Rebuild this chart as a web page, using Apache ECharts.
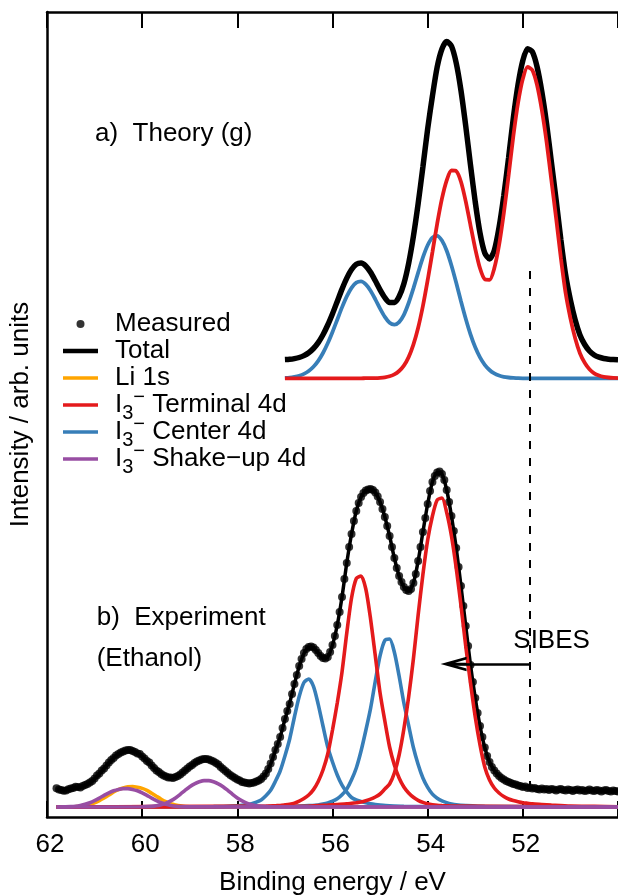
<!DOCTYPE html>
<html><head><meta charset="utf-8">
<script src="https://cdn.jsdelivr.net/npm/echarts@6/dist/echarts.min.js"></script>
<style>html,body{margin:0;padding:0;background:#fff}#chart{width:618px;height:896px}</style>
</head><body><div id="chart"></div>
<script>
// ---------- x grids (binding energy, eV) ----------
const theoryEv = Array.from({length: 71}, (_, i) => +(57 - 0.1 * i).toFixed(1));
const fitEv = Array.from({length: 119}, (_, i) => +(61.8 - 0.1 * i).toFixed(1));
const measuredEv = Array.from({length: 237}, (_, i) => +(61.8 - 0.05 * i).toFixed(2));

// ---------- a) Theory (g) ----------
const theoryTotal = [
 457.4, 457.7, 458.4, 459.5, 461.4, 464.3, 468.5, 474.4, 482.3, 492.0,
 503.3, 515.6, 527.9, 538.9, 547.5, 552.7, 553.9, 551.0, 544.7, 536.2,
 527.2, 519.4, 514.5, 514.6, 520.5, 533.2, 553.5, 580.6, 613.3, 650.2,
 688.2, 721.0, 750.0, 768.0, 775.5, 771.0, 754.0, 726.5, 691.0, 652.0,
 615.0, 584.0, 564.0, 558.0, 566.5, 589.5, 621.5, 659.0, 699.0, 732.5,
 756.5, 768.3, 765.2, 750.0, 725.0, 693.0, 655.0, 617.0, 577.0, 542.0,
 517.0, 497.0, 482.0, 472.5, 466.0, 462.0, 459.8, 458.5, 457.8, 457.4,
 457.2];
const theoryTerminal = [
 438.7, 438.7, 438.7, 438.7, 438.7, 438.7, 438.7, 438.7, 438.7, 438.7,
 438.7, 438.7, 438.7, 438.7, 438.7, 438.7, 438.7, 438.8, 438.8, 438.9,
 439.2, 439.7, 440.7, 442.6, 446.0, 451.4, 459.9, 472.4, 489.3, 511.0,
 536.8, 564.9, 593.3, 618.3, 636.7, 646.5, 645.9, 635.3, 615.7, 591.7,
 568.2, 548.7, 537.7, 537.2, 548.7, 571.7, 603.7, 641.2, 680.7, 714.2,
 738.2, 750.0, 746.9, 731.7, 706.7, 674.7, 636.7, 598.7, 558.7, 523.7,
 498.7, 478.7, 463.7, 454.2, 447.7, 443.7, 441.5, 440.2, 439.5, 439.1,
 438.9];
const theoryCenter = [
 439.1, 439.4, 440.1, 441.2, 443.1, 446.0, 450.2, 456.1, 464.0, 473.7,
 485.0, 497.3, 509.6, 520.6, 529.2, 534.4, 535.6, 532.6, 526.3, 517.7,
 508.4, 500.1, 494.2, 492.4, 494.9, 502.2, 514.0, 528.6, 544.4, 559.6,
 571.8, 579.5, 581.1, 576.4, 566.2, 551.5, 534.2, 515.8, 498.3, 482.7,
 469.7, 459.6, 452.2, 447.0, 443.6, 441.5, 440.2, 439.5, 439.1, 438.8,
 438.7, 438.7, 438.7, 438.7, 438.7, 438.7, 438.7, 438.7, 438.7, 438.7,
 438.7, 438.7, 438.7, 438.7, 438.7, 438.7, 438.7, 438.7, 438.7, 438.7,
 438.7];

// ---------- b) Experiment (Ethanol) ----------
const measured = [
 28.7, 27.5, 27.0, 26.2, 26.5, 27.8, 28.5, 29.0, 30.2, 30.0, 29.4, 31.0, 32.0, 33.0, 34.5, 36.0,
 38.5, 41.5, 43.5, 46.5, 48.5, 51.5, 54.5, 57.0, 59.0, 61.5, 63.0, 64.5, 65.5, 66.5, 67.0, 67.0, 66.0, 65.0, 63.5, 63.0,
 60.5, 58.5, 56.0, 54.5, 51.5, 49.0, 46.5, 45.0, 43.0, 41.5, 40.5, 39.5, 39.5, 39.0, 40.0, 41.0, 42.5, 44.5, 46.5, 48.5,
 50.5, 52.0, 54.0, 55.5, 56.5, 57.5, 58.0, 58.0, 57.5, 56.5, 55.5, 54.0, 52.5, 50.0, 48.0, 46.0, 44.0, 42.0, 40.5, 39.0,
 37.5, 36.5, 35.0, 34.5, 34.0, 33.5, 34.0, 34.5, 35.5, 36.5, 38.0, 40.5, 43.5, 48.0, 53.5, 60.0, 67.0, 73.0, 80.0, 89.0,
 98, 106, 113, 123, 133, 142, 151, 158, 164, 168, 170, 170.5, 169.5, 167, 164, 161, 159, 158.5, 160, 165,
 172, 181, 192, 205, 220, 238, 254, 270, 283, 296, 306, 314, 320, 324, 326.5, 327.5, 328, 327, 324.5, 320.5,
 315, 308, 300, 291, 281, 270, 259, 249, 241, 235, 230, 227, 226, 228, 234, 243, 256, 270, 285, 299,
 313, 326, 335, 341, 344.5, 345.5, 343, 337, 327, 315, 301, 286, 269, 250, 231, 211, 191, 171, 152, 135,
 119, 104, 91, 80, 69.5, 61, 55, 50, 46.5, 43.5, 41, 39, 37.5, 36, 35, 34, 33, 32.5, 31.5, 31,
 30, 30.5, 29, 29.5, 28.5, 29, 28, 27.5, 28.5, 27.5, 28, 27, 28, 27.5, 26.5, 27.5, 28, 27, 26.5, 27.5,
 27, 26, 27, 27.5, 26.5, 27, 26, 26.5, 27.5, 26.5, 26, 27, 26.5, 25.5, 26.5, 27, 26, 25.5, 26.5, 26,
 25.5];
const fitTotal = [
 27.5, 27.6, 27.8, 28.2, 28.8, 29.8, 31.5, 34.2, 38.0, 43.0,
 48.5, 54.0, 59.0, 63.0, 65.5, 66.5, 66.0, 64.0, 60.5, 56.0,
 51.2, 46.5, 43.0, 40.5, 39.5, 40.0, 42.3, 46.0, 50.0, 53.5,
 56.2, 57.6, 57.4, 55.5, 52.5, 48.2, 44.0, 40.5, 37.5, 35.2,
 34.0, 33.8, 35.2, 38.0, 43.5, 53.0, 66.5, 80.0, 97.5, 114.0,
 133.0, 150.5, 163.5, 169.5, 169.0, 164.0, 159.0, 160.0, 172.0, 192.0,
 220.0, 254.0, 283.0, 306.0, 320.0, 326.5, 328.0, 324.5, 315.0, 300.0,
 281.0, 259.0, 241.0, 230.0, 226.0, 234.0, 256.0, 285.0, 313.0, 335.0,
 344.5, 343.0, 327.0, 301.0, 269.0, 231.0, 191.0, 152.0, 119.0, 91.0,
 69.5, 55.0, 46.5, 41.0, 37.5, 35.0, 33.0, 31.6, 30.4, 29.6,
 29.0, 28.5, 28.2, 28.0, 27.7, 27.5, 27.3, 27.1, 27.0, 26.9,
 26.8, 26.7, 26.6, 26.5, 26.4, 26.3, 26.2, 26.1, 26.0];

const liEv = [61.8, 61.6, 61.4, 61.3, 61.2, 61.1, 61.0, 60.9, 60.8, 60.7, 60.6, 60.5, 60.4, 60.3, 60.2, 60.1, 60.0, 59.9, 59.8, 59.7, 59.6, 59.5, 59.4, 59.3, 59.2, 59.1, 58.9, 50.0];
const liVals = [10, 10.1, 10.4, 10.7, 11.4, 12.6, 14.1, 16.4, 19, 21.9, 25, 27.4, 29.1, 30.2, 30.5, 29.8, 28.6, 26.6, 23.7, 20.7, 17.8, 15.3, 13.4, 12.1, 11.1, 10.5, 10.2, 10];

const shakeAEv = [61.8, 61.7, 61.5, 61.4, 61.3, 61.2, 61.1, 61.0, 60.9, 60.8, 60.7, 60.6, 60.5, 60.4, 60.3, 60.2, 60.1, 60.0, 59.9, 59.8, 59.7, 59.6, 59.5, 59.4, 59.3, 59.2, 59.0, 50.0];
const shakeAVals = [10, 10.1, 10.4, 10.8, 11.6, 12.7, 14.3, 16.4, 18.9, 21.6, 24.2, 26.2, 27.6, 28.4, 28.4, 27.6, 26.2, 24.2, 21.6, 18.9, 16.4, 14.3, 12.7, 11.6, 10.8, 10.4, 10.1, 10];
const shakeBEv = [61.8, 60.0, 59.8, 59.7, 59.6, 59.5, 59.4, 59.3, 59.2, 59.1, 59.0, 58.9, 58.8, 58.7, 58.6, 58.5, 58.4, 58.3, 58.2, 58.1, 58.0, 57.9, 57.8, 57.7, 57.6, 57.5, 57.3, 50.0];
const shakeBVals = [10, 10.2, 10.6, 11.2, 12.3, 13.8, 16.1, 19.1, 22.7, 26.6, 30.3, 33.2, 35.2, 36.4, 36.4, 35.2, 33.2, 30.3, 26.6, 22.7, 19.1, 16.1, 13.8, 12.3, 11.2, 10.6, 10.2, 10];

const centerAEv = [61.8, 58.5, 58.2, 58.0, 57.9, 57.8, 57.7, 57.6, 57.5, 57.4, 57.3, 57.2, 57.1, 57.0, 56.9, 56.8, 56.7, 56.6, 56.5, 56.4, 56.3, 56.2, 56.1, 56.0, 55.9, 55.8, 55.7, 55.6, 55.5, 55.4, 55.3, 55.2, 55.1, 55.0, 54.8, 54.5, 50.0];
const centerAVals = [10, 10.4, 10.8, 11.3, 11.7, 12.3, 13.3, 14.9, 17.1, 21.3, 26.7, 35.7, 46, 61, 78, 100, 120.4, 134.5, 138, 130.7, 112.7, 91, 70, 55, 42, 31.8, 24.8, 19.5, 17, 15.5, 14.2, 13.2, 12.5, 12, 11.3, 10.8, 10];
const centerBEv = [61.8, 56.9, 56.5, 56.3, 56.2, 56.1, 56.0, 55.9, 55.8, 55.7, 55.6, 55.5, 55.4, 55.3, 55.2, 55.1, 55.0, 54.9, 54.8, 54.7, 54.6, 54.5, 54.4, 54.3, 54.2, 54.1, 54.0, 53.9, 53.8, 53.7, 53.6, 53.5, 53.4, 53.2, 52.8, 50.0];
const centerBVals = [10, 10.5, 11.4, 12, 12.9, 14.1, 15.8, 18.2, 22.2, 27.9, 37.2, 49, 66, 86.5, 108.6, 136, 161.3, 176.6, 178, 164.7, 141, 114, 91.6, 69.5, 52.5, 39, 29.6, 22.9, 18.8, 16.1, 14.4, 13.1, 12.2, 11.4, 10.5, 10];

const termAEv = [61.8, 57.4, 57.3, 57.2, 57.1, 57.0, 56.9, 56.8, 56.7, 56.6, 56.5, 56.4, 56.3, 56.2, 56.1, 56.0, 55.9, 55.8, 55.7, 55.6, 55.5, 55.4, 55.3, 55.2, 55.1, 55.0, 54.9, 54.8, 54.7, 54.6, 54.5, 54.4, 54.3, 54.2, 54.1, 54.0, 53.9, 53.8, 53.7, 53.6, 53.5, 50.0];
const termAVals = [10, 10.7, 11, 11.3, 11.5, 12.1, 12.8, 13.9, 15.8, 18.4, 22, 27.4, 35.5, 47, 63, 87, 114, 145, 184, 219, 238.5, 241, 228, 198, 161, 124, 96, 70, 52, 39, 30, 24, 19.7, 16.7, 14.6, 13.2, 12.3, 11.7, 11.4, 11.2, 10.9, 10];
const termBEv = [61.8, 56.5, 56.1, 55.9, 55.7, 55.6, 55.5, 55.4, 55.3, 55.2, 55.1, 55.0, 54.9, 54.8, 54.7, 54.6, 54.5, 54.4, 54.3, 54.2, 54.1, 54.0, 53.9, 53.8, 53.7, 53.6, 53.5, 53.4, 53.3, 53.2, 53.1, 53.0, 52.9, 52.8, 52.7, 52.6, 52.5, 52.4, 52.3, 52.2, 52.1, 52.0, 51.9, 51.8, 51.6, 51.4, 51.0, 50.5, 50.0];
const termBVals = [10, 10.9, 11.9, 12.5, 13.1, 13.7, 14.3, 15, 16.2, 17.8, 20, 23, 28, 33, 44, 62, 88, 120, 158, 202, 242.5, 277, 301, 317, 319, 304.5, 281, 249, 211.5, 171, 134, 100, 72, 50, 37, 29, 24, 20.5, 18, 16.5, 15.3, 14.3, 13.7, 13.1, 12.5, 11.9, 10.9, 10.6, 10.3];

// ---------- axis ticks & annotations ----------
const xMin = 50, xMax = 62, xStep = 2;
const yMin = 0, yMax = 805;
const sibesEv = 51.86;          // dashed reference line
const dashRange = [546, 28];    // intensity extent of dashed line
const arrowY = 153;             // intensity of SIBES arrow
const arrowHeadEv = 53.456;     // centre of the arrow head
const legendNames = ['Measured', 'Total', 'Li 1s', 'I3 Terminal 4d', 'I3 Center 4d', 'I3 Shake-up 4d'];

const C = {black: '#000000', orange: '#FFA500', red: '#E41A1C', blue: '#377EB8', purple: '#984EA3'};
const FONT = "'Liberation Sans', Arial, Helvetica, sans-serif";
const pairs = (xs, ys) => xs.map((x, i) => [x, ys[i]]);
const lineSeries = (name, xs, ys, color, width, extra) => Object.assign({
  type: 'line', name, data: pairs(xs, ys), showSymbol: false, symbol: 'none',
  smooth: 0.25, lineStyle: {color, width}, itemStyle: {color},
  emphasis: {disabled: true}, silent: true, animation: false
}, extra || {});

const ARROW = 'path://M7.3,0L14.6,26L11.8,26L7.3,10L2.8,26L0,26Z M5.95,8L8.65,8L8.65,26L5.95,26Z';

const series = [
  lineSeries('Total', theoryEv, theoryTotal, C.black, 5.5, {
    markLine: {
      silent: true, animation: false, symbol: ['none', 'none'], label: {show: false},
      emphasis: {disabled: true},
      lineStyle: {color: '#000', width: 2, type: [8, 9]},
      data: [[{coord: [sibesEv, dashRange[0]]}, {coord: [sibesEv, dashRange[1]]}]]
    }
  }),
  lineSeries('I3 Center 4d', theoryEv, theoryCenter, C.blue, 3.8),
  lineSeries('I3 Terminal 4d', theoryEv, theoryTerminal, C.red, 3.8),
  {type: 'scatter', name: 'Measured', data: pairs(measuredEv, measured), symbol: 'circle', symbolSize: 8,
   itemStyle: {color: '#000'}, emphasis: {disabled: true}, silent: true, animation: false},
  lineSeries('Total', fitEv, fitTotal, C.black, 3.5, {
    markLine: {
      silent: true, animation: false, label: {show: false}, emphasis: {disabled: true},
      lineStyle: {color: '#000', width: 2.7, type: 'solid'},
      symbol: ['none', ARROW], symbolSize: [1, [14.6, 26]],
      data: [[{coord: [sibesEv, arrowY], symbol: 'none'}, {coord: [arrowHeadEv, arrowY], symbol: ARROW, symbolSize: [14.6, 26]}]]
    }
  }),
  lineSeries('Li 1s', liEv, liVals, C.orange, 3.6),
  lineSeries('I3 Center 4d', centerAEv, centerAVals, C.blue, 3.6),
  lineSeries('I3 Center 4d', centerBEv, centerBVals, C.blue, 3.6),
  lineSeries('I3 Terminal 4d', termAEv, termAVals, C.red, 3.6),
  lineSeries('I3 Terminal 4d', termBEv, termBVals, C.red, 3.6),
  lineSeries('I3 Shake-up 4d', shakeAEv, shakeAVals, C.purple, 3.6),
  lineSeries('I3 Shake-up 4d', shakeBEv, shakeBVals, C.purple, 3.6)
];

const legendText = {
  'Measured': '{g| }Measured',
  'Total': '{g| }Total',
  'Li 1s': '{g| }Li 1s',
  'I3 Terminal 4d': '{g| }I{sub|3}{sup|\u2212} Terminal 4d',
  'I3 Center 4d': '{g| }I{sub|3}{sup|\u2212} Center 4d',
  'I3 Shake-up 4d': '{g| }I{sub|3}{sup|\u2212} Shake\u2212up 4d'
};
const legendIcons = {
  'Measured': 'circle',
  'Total': 'path://M0,0H35V4.5H0Z'
};

const axisLineStyle = {color: '#000', width: 2.5};
const option = {
  backgroundColor: '#fff',
  animation: false,
  grid: {left: 47, right: 0, top: 12, bottom: 79, containLabel: false, outerBoundsMode: 'none'},
  xAxis: [
    {type: 'value', min: xMin, max: xMax, interval: xStep, inverse: true, position: 'bottom',
     axisLine: {show: true, onZero: false, lineStyle: axisLineStyle},
     axisTick: {show: true, inside: true, length: 16, lineStyle: {color: '#000', width: 2}},
     axisLabel: {show: true, margin: 15, color: '#000', fontSize: 26, fontFamily: FONT,
                 padding: [0, 0, 0, 6], formatter: v => (v === xMin ? '' : String(v))},
     splitLine: {show: false},
     name: 'Binding energy / eV', nameLocation: 'middle', nameGap: 53, nameMoveOverlap: false,
     nameTextStyle: {color: '#000', fontSize: 26, fontFamily: FONT}},
    {type: 'value', min: xMin, max: xMax, interval: xStep, inverse: true, position: 'top',
     axisLine: {show: true, onZero: false, lineStyle: axisLineStyle},
     axisTick: {show: true, inside: true, length: 16, lineStyle: {color: '#000', width: 2}},
     axisLabel: {show: false}, splitLine: {show: false}}
  ],
  yAxis: [{
    type: 'value', min: yMin, max: yMax, position: 'left',
    axisLine: {show: true, onZero: false, lineStyle: axisLineStyle},
    axisTick: {show: false}, axisLabel: {show: false}, splitLine: {show: false},
    name: 'Intensity / arb. units', nameLocation: 'middle', nameGap: 13, nameMoveOverlap: false,
    nameTextStyle: {color: '#000', fontSize: 26, fontFamily: FONT}
  }],
  legend: {
    orient: 'vertical', left: 63, top: 306, padding: 0, itemGap: -9,
    itemWidth: 35, itemHeight: 8, selectedMode: false,
    data: legendNames.map(n => ({name: n, icon: legendIcons[n] || 'path://M0,0H35V3.4H0Z'})),
    itemStyle: {borderWidth: 0},
    formatter: n => legendText[n],
    textStyle: {
      color: '#000', fontSize: 26, fontFamily: FONT, lineHeight: 36,
      rich: {
        g: {width: 12, fontSize: 26, fontFamily: FONT},
        sub: {fontSize: 20, lineHeight: 20, verticalAlign: 'bottom', fontFamily: FONT, color: '#000'},
        sup: {fontSize: 20, lineHeight: 17, verticalAlign: 'top', fontFamily: FONT, color: '#000'}
      }
    }
  },
  graphic: [
    {type: 'text', x: 95, y: 133.4, z: 100, silent: true,
     style: {text: 'a)  Theory (g)', fill: '#000', fontSize: 26, fontFamily: FONT, align: 'left', verticalAlign: 'middle'}},
    {type: 'text', x: 96.7, y: 618, z: 100, silent: true,
     style: {text: 'b)  Experiment', fill: '#000', fontSize: 26, fontFamily: FONT, align: 'left', verticalAlign: 'middle'}},
    {type: 'text', x: 96.7, y: 659.2, z: 100, silent: true,
     style: {text: '(Ethanol)', fill: '#000', fontSize: 26, fontFamily: FONT, align: 'left', verticalAlign: 'middle'}},
    {type: 'text', x: 513.3, y: 641, z: 100, silent: true,
     style: {text: 'SIBES', fill: '#000', fontSize: 26, fontFamily: FONT, align: 'left', verticalAlign: 'middle'}}
  ],
  series
};
const chart = echarts.init(document.getElementById('chart'), null, {renderer: 'canvas', width: 618, height: 896});
chart.setOption(option);
</script></body></html>
